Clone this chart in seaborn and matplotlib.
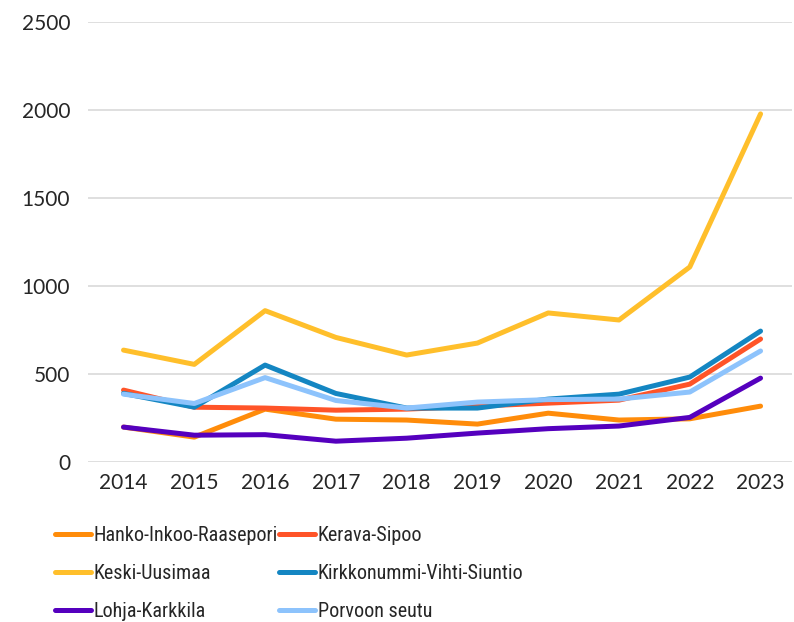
import pandas as pd
import matplotlib
matplotlib.use("Agg")
import matplotlib.pyplot as plt
from matplotlib import font_manager as fm
import seaborn as sns

# data
years = [2014, 2015, 2016, 2017, 2018, 2019, 2020, 2021, 2022, 2023]
hanko = [199, 142, 301, 244, 239, 216, 278, 239, 246, 318]
kerava = [409, 312, 307, 295, 301, 318, 335, 352, 443, 699]
keski = [636, 555, 860, 708, 608, 676, 847, 807, 1108, 1977]
kirkkonummi = [390, 312, 551, 390, 307, 307, 358, 386, 483, 744]
lohja = [199, 153, 156, 119, 136, 165, 190, 205, 254, 477]
porvoo = [386, 333, 480, 350, 307, 341, 355, 358, 398, 631]

series = {
    "Hanko-Inkoo-Raasepori": hanko,
    "Kerava-Sipoo": kerava,
    "Keski-Uusimaa": keski,
    "Kirkkonummi-Vihti-Siuntio": kirkkonummi,
    "Lohja-Karkkila": lohja,
    "Porvoon seutu": porvoo,
}
colors = ["#FF8C0A", "#FF5428", "#FFBF2B", "#1486C2", "#5500BE", "#8DC3FC"]

rows = []
for name, vals in series.items():
    for y, v in zip(years, vals):
        rows.append({"year": y, "value": v, "area": name})
df = pd.DataFrame(rows)

sns.set_style("white")
plt.rcParams['font.family'] = ['Lato', 'DejaVu Sans']

# legend text in the reference is a narrow face; use a condensed one if there is one
installed = {f.name for f in fm.fontManager.ttflist}
if "Roboto Condensed" in installed:
    leg_prop = {"family": ["Roboto Condensed", "Lato"], "size": 14.5}
else:
    leg_prop = {"family": ["Lato", "DejaVu Sans"], "size": 13.3}

fig = plt.figure(figsize=(7.94, 6.22), dpi=100)
ax = fig.add_axes([0.111, 0.257, 0.887, 0.708])

sns.lineplot(data=df, x="year", y="value", hue="area", hue_order=list(series.keys()),
             palette=colors, linewidth=3.6, ax=ax, legend=True)
for line in ax.get_lines():
    line.set_solid_capstyle("round")

ax.set_xlim(2013.5, 2023.45)
ax.set_ylim(0, 2500)
ax.set_yticks([0, 500, 1000, 1500, 2000, 2500])
ax.set_xticks(years)
ax.yaxis.grid(True, color="#D9D9D9", linewidth=1.2)
ax.set_axisbelow(True)
for s in ax.spines.values():
    s.set_visible(False)
ax.tick_params(axis="y", length=0, pad=13, labelsize=15, labelcolor="#262626")
ax.tick_params(axis="x", length=0, pad=8, labelsize=15, labelcolor="#262626")
ax.set_xlabel("")
ax.set_ylabel("")

handles, labels = ax.get_legend_handles_labels()
ax.get_legend().remove()
order = [0, 2, 4, 1, 3, 5]
fs = leg_prop["size"] * 100 / 72
leg = fig.legend([handles[i] for i in order], [labels[i] for i in order],
                 ncol=2, loc="upper left", bbox_to_anchor=(0.056, 0.171),
                 frameon=False, prop=leg_prop,
                 handlelength=36 / fs, handletextpad=3 / fs,
                 columnspacing=1 / fs, labelspacing=19 / fs, borderpad=0)
for h in leg.get_lines():
    h.set_linewidth(3.6)
    h.set_solid_capstyle("round")
for t in leg.get_texts():
    t.set_color("#262626")

fig.savefig("out.png", dpi=100)
